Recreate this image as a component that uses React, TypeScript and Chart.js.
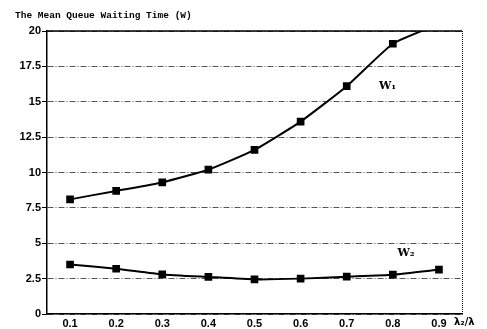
import React, { useEffect, useRef } from "react";
import { Chart, registerables } from "chart.js";

Chart.register(...registerables);

const categories = ["0.1", "0.2", "0.3", "0.4", "0.5", "0.6", "0.7", "0.8", "0.9"];
const w1Values = [8.1, 8.7, 9.3, 10.2, 11.6, 13.6, 16.1, 19.1, 20.5];
const w2Values = [3.5, 3.2, 2.8, 2.62, 2.45, 2.5, 2.64, 2.78, 3.14];
const yTicks = [0, 2.5, 5, 7.5, 10, 12.5, 15, 17.5, 20];
const titleText = "The Mean Queue Waiting Time (W)";
const xAxisTitle = "λ₂/λ";
const w1Label = "W₁";
const w2Label = "W₂";

const decorPlugin = {
  id: "decor",
  afterDraw(chart: any) {
    const { ctx, chartArea } = chart;
    const { left, right, top, bottom } = chartArea;
    ctx.save();
    ctx.strokeStyle = "#000";
    ctx.lineWidth = 1.5;
    ctx.setLineDash([]);
    ctx.beginPath();
    ctx.moveTo(left, top);
    ctx.lineTo(right, top);
    ctx.stroke();
    ctx.lineWidth = 1;
    ctx.setLineDash([1, 1]);
    ctx.beginPath();
    ctx.moveTo(right + 0.5, top);
    ctx.lineTo(right + 0.5, bottom);
    ctx.stroke();
    ctx.setLineDash([]);
    ctx.fillStyle = "#000";
    ctx.font = "bold 9.5px 'Liberation Mono'";
    ctx.textBaseline = "middle";
    ctx.textAlign = "left";
    ctx.fillText(titleText, 15, 16);
    const xs = chart.scales.x;
    const ys = chart.scales.y;
    ctx.font = "bold 11px 'DejaVu Serif'";
    ctx.fillText(w1Label, xs.getPixelForValue(6.7), ys.getPixelForValue(16.1));
    ctx.fillText(w2Label, xs.getPixelForValue(7.1), ys.getPixelForValue(4.3));
    ctx.font = "bold 10px 'DejaVu Sans'";
    ctx.fillText(xAxisTitle, 454, 322);
    ctx.restore();
  },
};

export default function App() {
  const ref = useRef<HTMLCanvasElement>(null);
  useEffect(() => {
    if (!ref.current) return;
    const chart = new Chart(ref.current, {
      type: "line",
      data: {
        labels: categories,
        datasets: [
          {
            label: "W1",
            data: w1Values,
            borderColor: "#000",
            backgroundColor: "#000",
            borderWidth: 2,
            pointStyle: "rect",
            pointRadius: 4,
            tension: 0.15,
            clip: 0,
          },
          {
            label: "W2",
            data: w2Values,
            borderColor: "#000",
            backgroundColor: "#000",
            borderWidth: 2,
            pointStyle: "rect",
            pointRadius: 4,
            tension: 0.15,
            clip: 0,
          },
        ],
      },
      options: {
        animation: false,
        responsive: false,
        layout: { padding: { left: 0, right: 25, top: 31, bottom: 0 } },
        plugins: { legend: { display: false }, title: { display: false }, tooltip: { enabled: false } },
        scales: {
          x: {
            type: "category",
            offset: true,
            grid: { display: false, drawTicks: false },
            border: { display: true, color: "#000", width: 1.5 },
            ticks: {
              color: "#000",
              padding: 3,
              font: { family: "'Liberation Sans'", size: 11, weight: "bold" },
              maxRotation: 0,
            },
            afterFit: (s: any) => {
              s.height = 15;
            },
          },
          y: {
            min: 0,
            max: 20,
            afterBuildTicks: (s: any) => {
              s.ticks = yTicks.map((v) => ({ value: v }));
            },
            grid: {
              color: "#555",
              lineWidth: 1,
              tickLength: 5,
              drawTicks: true,
              tickColor: "#000",
              tickBorderDash: [],
            },
            border: { display: true, color: "#000", width: 1.5, dash: [6, 2, 1, 2] } as any,
            ticks: {
              color: "#000",
              padding: 1,
              font: { family: "'Liberation Sans'", size: 11, weight: "bold" },
            },
            afterFit: (s: any) => {
              s.width = 47;
            },
          },
        },
      },
      plugins: [decorPlugin],
    } as any);
    return () => chart.destroy();
  }, []);
  return (
    <div style={{ position: "fixed", left: 0, top: 0, width: 487, height: 329, background: "#fff" }}>
      <canvas ref={ref} width={487} height={329} style={{ display: "block" }} />
    </div>
  );
}
